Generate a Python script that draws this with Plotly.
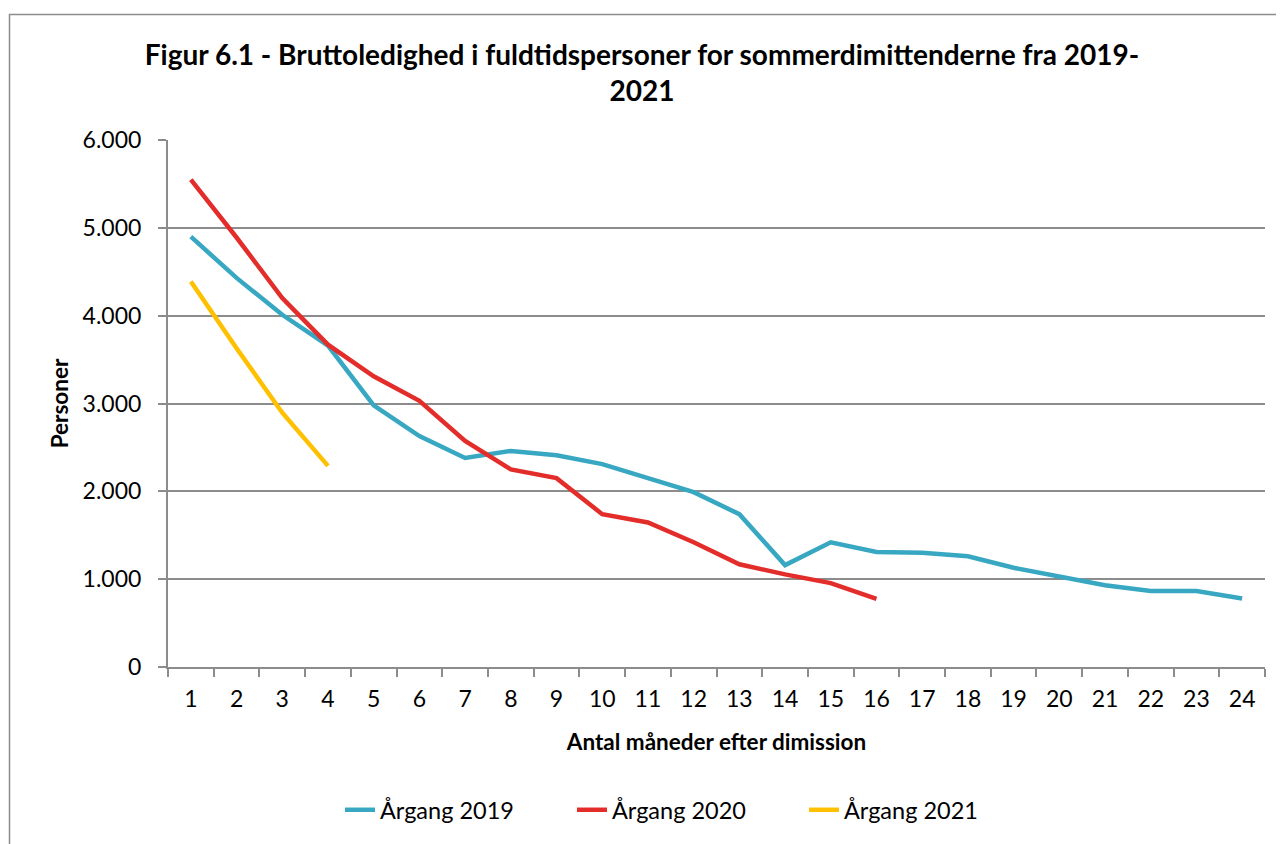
import plotly.graph_objects as go

months = [str(i) for i in range(1, 25)]
aargang_2019 = [4900, 4430, 4010, 3660, 2980, 2630, 2380, 2460, 2410, 2310, 2150, 1990,
                1740, 1160, 1420, 1310, 1300, 1260, 1130, 1030, 930, 865, 865, 780]
aargang_2020 = [5550, 4890, 4200, 3670, 3310, 3030, 2575, 2250, 2150, 1740, 1645, 1420,
                1170, 1055, 955, 775]
aargang_2021 = [4390, 3630, 2895, 2290]

series = [
    ("Årgang 2019", aargang_2019, "#38A8C2"),
    ("Årgang 2020", aargang_2020, "#E32D2B"),
    ("Årgang 2021", aargang_2021, "#FFC000"),
]

FONT = "Lato, 'Liberation Sans', Arial, sans-serif"

fig = go.Figure()
for name, vals, col in series:
    fig.add_trace(go.Scatter(
        x=months[:len(vals)], y=vals, mode="lines", name=name,
        line=dict(color=col, width=4.5),
    ))

# page offset (body margin) of 8px
OFF = 8
W, H = 1276, 836
L, R, T, B = 168 - OFF, 1265 - OFF, 140 - OFF, 667 - OFF

def px(x):
    return (x - OFF - L) / (R - L)

def py(y):
    return (B - (y - OFF)) / (B - T)

fig.update_layout(
    width=W, height=H,
    margin=dict(l=L, r=W - R, t=T, b=H - B),
    paper_bgcolor="white", plot_bgcolor="white",
    separators=",.",
    font=dict(family=FONT, color="black", size=23),
    title=dict(
        text="<b>Figur 6.1 - Bruttoledighed i fuldtidspersoner for sommerdimittenderne fra 2019-<br>2021</b>",
        x=(642 - OFF) / W, xref="container", xanchor="center",
        y=1 - (65 - OFF) / H, yref="container", yanchor="top",
        font=dict(family=FONT, size=28, color="black"),
    ),
    showlegend=True,
    legend=dict(
        orientation="h", x=(688 - OFF) / W, xref="container", xanchor="center",
        y=1 - (810 - OFF) / H, yref="container", yanchor="middle",
        font=dict(family=FONT, size=23.5, color="black"),
        traceorder="normal", entrywidth=187,
    ),
    xaxis=dict(
        type="category", tickson="boundaries",
        showline=True, linecolor="#8C8C8C", linewidth=2,
        ticks="outside", ticklen=8, tickcolor="#8C8C8C", tickwidth=2,
        showgrid=False, zeroline=False,
        tickfont=dict(family=FONT, size=23, color="black"),
        ticklabelstandoff=10,
        title=dict(text="<b>Antal måneder efter dimission</b>",
                   font=dict(family=FONT, size=22.5, color="black"), standoff=24),
        range=[-0.5, 23.5],
    ),
    yaxis=dict(
        range=[0, 6000], dtick=1000, tickformat=",d",
        showline=True, linecolor="#8C8C8C", linewidth=2,
        ticks="outside", ticklen=8, tickcolor="#8C8C8C", tickwidth=2,
        showgrid=True, gridcolor="#8C8C8C", gridwidth=2,
        zeroline=False,
        tickfont=dict(family=FONT, size=23, color="black"),
        ticklabelstandoff=12,
        title=dict(text="<b>Personer</b>",
                   font=dict(family=FONT, size=22.5, color="black"), standoff=8),
    ),
)

fig.add_shape(type="rect", xref="paper", yref="paper",
              x0=px(9.5), x1=px(1320), y0=py(880), y1=py(14.5),
              line=dict(color="#8C8C8C", width=1.5), fillcolor="rgba(0,0,0,0)",
              layer="below")

fig.write_html("out.html")
